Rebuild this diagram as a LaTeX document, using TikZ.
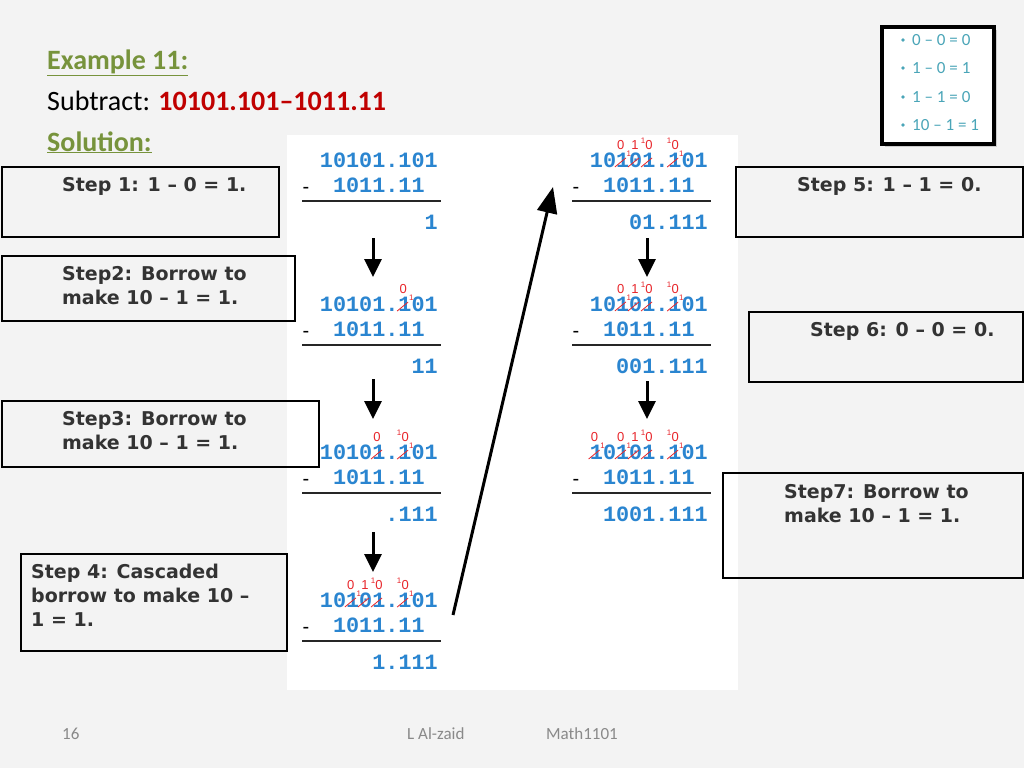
\documentclass[tikz,border=0pt]{standalone}
\usepackage{fontspec}
\usepackage{tikz}
\usetikzlibrary{arrows.meta}
\usetikzlibrary{shadows}
\usetikzlibrary{positioning}

\newfontfamily\headfont{Carlito}
\newfontfamily\stepfont{DejaVu Sans}
\newfontfamily\digitfont{Liberation Mono}
\newfontfamily\markfont{Liberation Sans}

\definecolor{slidebg}{HTML}{F3F3F3}
\definecolor{olivehead}{HTML}{77933C}
\definecolor{taskred}{HTML}{C00000}
\definecolor{digitblue}{HTML}{2A85D0}
\definecolor{markred}{HTML}{E8262B}
\definecolor{stepgray}{HTML}{333333}
\definecolor{ruleteal}{HTML}{4AA5B8}
\definecolor{footgray}{HTML}{898989}

\tikzset{
  stepbox/.style={draw=black, line width=2pt, anchor=north west, inner sep=0pt},
  steptext/.style={font=\stepfont\bfseries\fontsize{19}{24}\selectfont, text=stepgray, align=left, anchor=north west, inner sep=0pt},
  digits/.style={font=\digitfont\bfseries\fontsize{21.83}{24}\selectfont, text=digitblue, anchor=east, inner sep=0pt},
  minus/.style={font=\markfont\fontsize{20}{24}\selectfont, anchor=base, inner sep=0pt},
  sumline/.style={draw=black!85, line width=1.3pt},
  borrow/.style={font=\markfont\fontsize{13}{14}\selectfont, text=markred, inner sep=0pt},
  smallone/.style={font=\markfont\fontsize{8}{9}\selectfont, text=markred, inner sep=0pt},
  slash/.style={draw=markred, line width=0.8pt},
  flow/.style={line width=3pt, -{Triangle[length=18pt,width=17pt]}},
  bigflow/.style={line width=3pt, -{Triangle[length=26pt,width=20pt]}},
  heading/.style={font=\headfont\bfseries\fontsize{28}{34}\selectfont, text=olivehead, anchor=base west, inner sep=0pt},
  rulebox/.style={draw=black, line width=4pt, fill=white, minimum width=112pt, minimum height=116pt, drop shadow={shadow xshift=3pt, shadow yshift=-3pt, fill=black!35}},
  ruletext/.style={font=\headfont\fontsize{17}{20}\selectfont, text=ruleteal, anchor=base west, inner sep=0pt},
  footer/.style={font=\headfont\fontsize{17}{20}\selectfont, text=footgray, anchor=base west, inner sep=0pt}
}

\begin{document}
\begin{tikzpicture}[x=1pt, y=-1pt]
  \useasboundingbox (0,0) rectangle (1024,768);
  \fill[slidebg] (0,0) rectangle (1024,768);
  \fill[white] (287,135) rectangle (738,690);

  \node[heading] (title) at (47,69) {\underline{Example 11:}};
  \node[anchor=base west, inner sep=0pt, font=\headfont\fontsize{28}{34}\selectfont] (task) at (47,110)
    {Subtract: \textcolor{taskred}{\bfseries 10101.101–1011.11}};
  \node[heading] (solution) at (47,151) {\underline{Solution:}};

  \node[rulebox] (rules) at (937.5,85.5) {};
  \foreach \t/\y [count=\i] in {0 – 0 = 0/40, 1 – 0 = 1/68, 1 – 1 = 0/97, 10 – 1 = 1/125} {
    \fill[ruleteal] (903,\y) circle (1.8pt);
    \node[ruletext] (rule\i) at (912,\y+5.5) {\t};
  }

  \foreach \n/\X/\Y/\res in {a/438/160/1, b/438/304/11, c/438/452/.111, d/438/600/1.111,
                             e/708/160/01.111, f/708/304/001.111, g/708/452/1001.111} {
    \node[digits] (top\n) at (\X,\Y) {10101.101};
    \node[digits] (sub\n) at (\X-13.1,\Y+25) {1011.11};
    \node[minus] (min\n) at (\X-132,\Y+33) {-};
    \draw[sumline] (\X-136,\Y+41) -- (\X+3,\Y+41);
    \node[digits] (res\n) at (\X,\Y+62) {\res};
  }

  \foreach \cx/\Y [count=\i] in {405.2/304, 379.0/452, 352.8/600, 622.8/160, 622.8/304, 596.6/452, 622.8/452}
    \node[borrow] (zero\i) at (\cx-2,\Y-15) {0};
  \foreach \cx/\Y [count=\i] in {365.9/600, 635.9/160, 635.9/304, 635.9/452}
    \node[borrow] (one\i) at (\cx-1,\Y-15) {1};
  \foreach \cx/\Y [count=\i] in {405.2/452, 379.0/600, 405.2/600, 649.0/160, 675.2/160,
                                 649.0/304, 675.2/304, 649.0/452, 675.2/452} {
    \node[borrow] (ten\i) at (\cx,\Y-15) {0};
    \node[smallone] (tenone\i) at (\cx-6,\Y-19) {1};
  }
  \foreach \cx/\Y [count=\i] in {418.3/304, 418.3/452, 365.9/600, 418.3/600, 635.9/160, 688.3/160,
                                 635.9/304, 688.3/304, 609.7/452, 635.9/452, 688.3/452}
    \node[smallone] (carry\i) at (\cx-7,\Y-6) {1};
  \foreach \cx/\Y in {405.2/304, 379.0/452, 405.2/452, 352.8/600, 365.9/600, 379.0/600, 405.2/600,
                      622.8/160, 635.9/160, 649.0/160, 675.2/160, 622.8/304, 635.9/304, 649.0/304, 675.2/304,
                      596.6/452, 622.8/452, 635.9/452, 649.0/452, 675.2/452}
    \draw[slash] (\cx-8,\Y+7) -- (\cx+3,\Y-2);

  \coordinate (p1) at (373,238);
  \coordinate (p2) at (373,277);
  \coordinate (p3) at (373,379);
  \coordinate (p4) at (373,419);
  \coordinate (p5) at (373,532);
  \coordinate (p6) at (373,572);
  \coordinate (q1) at (647,238);
  \coordinate (q2) at (647,277);
  \coordinate (q3) at (647,381);
  \coordinate (q4) at (647,419);
  \coordinate (u1) at (453,615);
  \coordinate (u2) at (553,187);
  \draw[flow] (p1) -- (p2);
  \draw[flow] (p3) -- (p4);
  \draw[flow] (p5) -- (p6);
  \draw[flow] (q1) -- (q2);
  \draw[flow] (q3) -- (q4);
  \draw[bigflow] (u1) -- (u2);

  \node[stepbox, minimum width=277pt, minimum height=70pt] (box1) at (1,166) {};
  \node[stepbox, minimum width=293pt, minimum height=65pt] (box2) at (1,255) {};
  \node[stepbox, minimum width=317pt, minimum height=66pt] (box3) at (1,400) {};
  \node[stepbox, minimum width=266pt, minimum height=97pt] (box4) at (20,553) {};
  \node[stepbox, minimum width=287pt, minimum height=70pt] (box5) at (735,166) {};
  \node[stepbox, minimum width=274pt, minimum height=70pt] (box6) at (748,311) {};
  \node[stepbox, minimum width=300pt, minimum height=105pt] (box7) at (722,472) {};

  \node[steptext] (step1) at ([xshift=61pt, yshift=-11pt]box1.north west) {Step 1: 1 – 0 = 1.};
  \node[steptext] (step2) at ([xshift=61pt, yshift=-11pt]box2.north west) {Step2: Borrow to\\make 10 – 1 = 1.};
  \node[steptext] (step3) at ([xshift=61pt, yshift=-11pt]box3.north west) {Step3: Borrow to\\make 10 – 1 = 1.};
  \node[steptext] (step4) at ([xshift=11pt, yshift=-11pt]box4.north west) {Step 4: Cascaded\\borrow to make 10 –\\1 = 1.};
  \node[steptext] (step5) at ([xshift=62pt, yshift=-11pt]box5.north west) {Step 5: 1 – 1 = 0.};
  \node[steptext] (step6) at ([xshift=62pt, yshift=-11pt]box6.north west) {Step 6: 0 – 0 = 0.};
  \node[steptext] (step7) at ([xshift=62pt, yshift=-12pt]box7.north west) {Step7: Borrow to\\make 10 – 1 = 1.};

  \node[footer] (page) at (62,739) {16};
  \node[footer] (author) at (407,739) {L Al-zaid};
  \node[footer] (course) at (546,739) {Math1101};
\end{tikzpicture}
\end{document}
